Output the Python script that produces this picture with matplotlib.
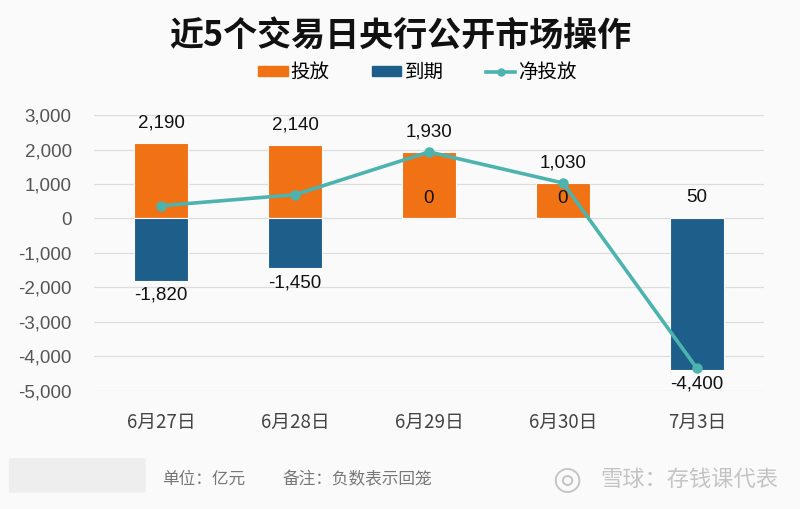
import matplotlib.pyplot as plt
from matplotlib.patches import FancyBboxPatch
from matplotlib.lines import Line2D
from matplotlib.patches import Patch

plt.rcParams['font.family'] = ['Liberation Sans', 'Noto Sans CJK SC']
cjk = ['Noto Sans CJK SC', 'DejaVu Sans']

# 数据
dates = ['6月27日', '6月28日', '6月29日', '6月30日', '7月3日']
put_in = [2190, 2140, 1930, 1030, 50]        # 投放
expire = [-1820, -1450, 0, 0, -4400]         # 到期
net = [370, 690, 1930, 1030, -4350]          # 净投放
yticks = [3000, 2000, 1000, 0, -1000, -2000, -3000, -4000, -5000]

c_put = '#F07214'
c_exp = '#1E5E8A'
c_net = '#4DB3AE'
bg = '#FAFAFB'

fig = plt.figure(figsize=(8, 5.09), dpi=100, facecolor=bg)
ax = fig.add_axes([0.1175, 0.232, 0.8375, 0.542], facecolor=bg)

x = list(range(len(dates)))
ax.bar(x, put_in, width=0.4, color=c_put, edgecolor=bg, linewidth=0.8, zorder=2)
ax.bar(x, expire, width=0.4, color=c_exp, edgecolor=bg, linewidth=0.8, zorder=2)
ax.plot(x, net, color=c_net, lw=2.6, marker='o', ms=6.5, zorder=3)

for i in x:
    ax.annotate(f'{put_in[i]:,}', (i, put_in[i]), xytext=(0, 8), textcoords='offset points',
                ha='center', va='bottom', fontsize=13.5, color='#111111')
    if expire[i] < 0:
        ax.annotate(f'{expire[i]:,}', (i, expire[i]), xytext=(0, -4), textcoords='offset points',
                    ha='center', va='top', fontsize=13.5, color='#111111')
    else:
        ax.annotate(f'{expire[i]:,}', (i, expire[i]), xytext=(0, 8), textcoords='offset points',
                    ha='center', va='bottom', fontsize=13.5, color='#111111')

ax.set_xlim(-0.5, 4.5)
ax.set_ylim(-5000, 3000)
ax.set_yticks(yticks)
ax.set_yticklabels([f'{v:,}' for v in yticks])
ax.set_xticks(x)
ax.set_xticklabels(dates, family=cjk)
ax.tick_params(axis='y', length=0, labelsize=13.5, labelcolor='#555555', pad=16)
ax.tick_params(axis='x', length=0, labelsize=13.5, labelcolor='#444444', pad=15)
ax.grid(axis='y', color='#DDDDDD', lw=0.9, zorder=0)
for s in ax.spines.values():
    s.set_visible(False)

fig.text(0.5, 0.931, '近5个交易日央行公开市场操作', ha='center', va='center',
         fontsize=24.5, fontweight='bold', color='#111111', family=cjk)

handles = [Patch(color=c_put), Patch(color=c_exp),
           Line2D([0], [0], color=c_net, lw=2.6, marker='o', ms=5)]
fig.legend(handles, ['投放', '到期', '净投放'], loc='center', bbox_to_anchor=(0.522, 0.858),
           ncol=3, frameon=False, prop={'family': cjk, 'size': 14, 'weight': 'medium'},
           handlelength=1.5, handleheight=0.45, columnspacing=2.2, handletextpad=0.15)

# 底部说明
fig.patches.append(FancyBboxPatch((0.014, 0.035), 0.165, 0.062, boxstyle='round,pad=0.003',
                                  transform=fig.transFigure, facecolor='#EEEEEF',
                                  edgecolor='none'))
fig.text(0.203, 0.058, '单位：亿元', ha='left', va='center', fontsize=12, color='#777777',
         family=cjk)
fig.text(0.353, 0.058, '备注：负数表示回笼', ha='left', va='center', fontsize=12,
         color='#777777', family=cjk)
fig.text(0.973, 0.058, '雪球：存钱课代表', ha='right', va='center', fontsize=16,
         color='#C4C4C4', family=cjk)
fig.text(0.708, 0.058, '◎', ha='center', va='center', fontsize=24, color='#C4C4C4',
         family=['DejaVu Sans'])

fig.savefig('out.png', dpi=100, facecolor=bg)
